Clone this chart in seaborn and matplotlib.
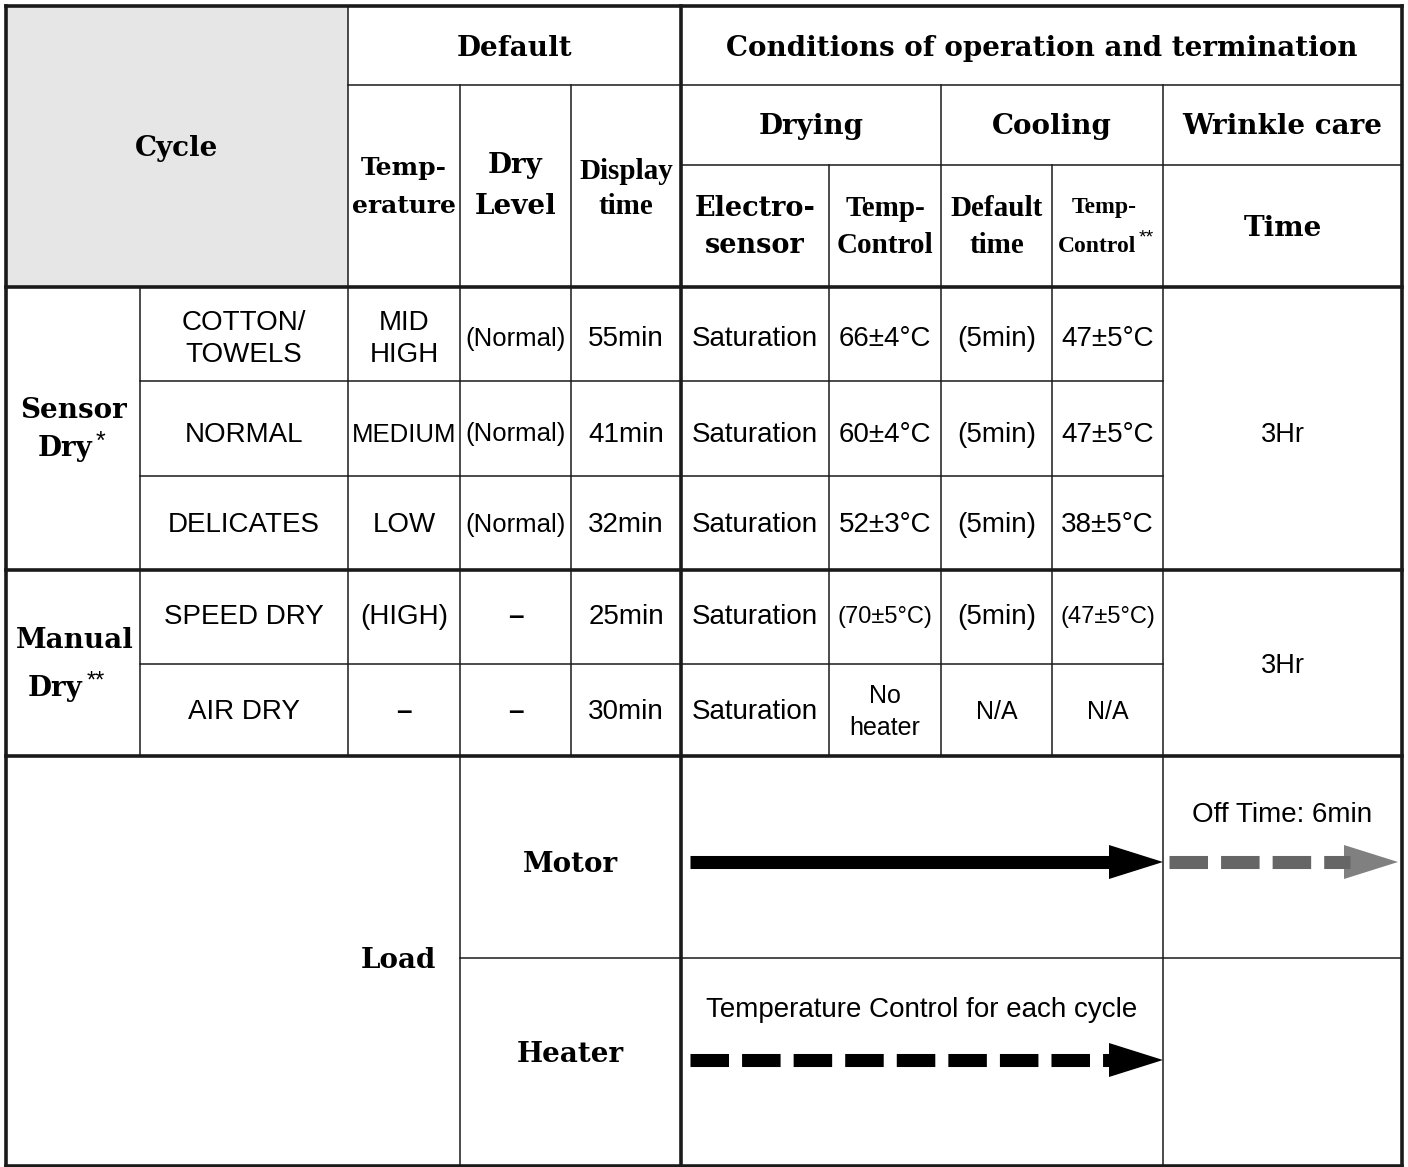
import numpy as np
import pandas as pd
import matplotlib.pyplot as plt
import seaborn as sns

sns.set_theme(style="white")

# table contents
cycles = ["COTTON/\nTOWELS", "NORMAL", "DELICATES", "SPEED DRY", "AIR DRY"]
temperature = ["MID\nHIGH", "MEDIUM", "LOW", "(HIGH)", "–"]
dry_level = ["(Normal)", "(Normal)", "(Normal)", "–", "–"]
display_time = ["55min", "41min", "32min", "25min", "30min"]
electro_sensor = ["Saturation", "Saturation", "Saturation", "Saturation", "Saturation"]
drying_temp = ["66±4°C", "60±4°C", "52±3°C", "(70±5°C)", "No\nheater"]
cooling_time = ["(5min)", "(5min)", "(5min)", "(5min)", "N/A"]
cooling_temp = ["47±5°C", "47±5°C", "38±5°C", "(47±5°C)", "N/A"]
wrinkle_time = ["3Hr", "3Hr"]
groups = ["Sensor", "Manual"]
group_marks = ["*", "**"]
loads = ["Motor", "Heater"]

# grid of the sheet (pixels)
X = [6, 140, 348, 460, 571, 681, 829, 941, 1052, 1163, 1402]
Y = [6, 85, 165, 287, 381, 476, 570, 664, 756, 958, 1166]
row_shift = [5, 6, 2, 0, 2]

HEAD = dict(family="DejaVu Serif", weight="bold", color="black")
COND = dict(family="Liberation Serif", weight="bold", color="black")
BODY = dict(family="Liberation Sans", color="black")

fig = plt.figure(figsize=(14.08, 11.67), dpi=100)
ax = fig.add_axes([0, 0, 1, 1])
ax.set_xlim(0, 1408)
ax.set_ylim(1167, 0)
ax.axis("off")

THIN = 1.1
THICK = 2.6


def hl(y, x0, x1, lw=THIN):
    ax.plot([x0, x1], [y, y], color="#1a1a1a", lw=lw, solid_capstyle="projecting")


def vl(x, y0, y1, lw=THIN):
    ax.plot([x, x], [y0, y1], color="#1a1a1a", lw=lw, solid_capstyle="projecting")


def txt(x, y, s, font, size, **kw):
    ax.text(x, y, s, ha="center", va="center", fontsize=size, **font, **kw)


def cell(c0, c1, r0, r1, s, font, size, dx=0, dy=0, **kw):
    txt((X[c0] + X[c1]) / 2 + dx, (Y[r0] + Y[r1]) / 2 + dy, s, font, size, **kw)


# grey header cell
ax.fill_between([X[0], X[2]], Y[0], Y[3], color="#e6e6e6", lw=0)

# horizontal rules
hl(Y[1], X[2], X[10])
hl(Y[2], X[5], X[10])
hl(Y[3], X[0], X[10], THICK)
hl(Y[4], X[1], X[9])
hl(Y[5], X[1], X[9])
hl(Y[6], X[0], X[10], THICK)
hl(Y[7], X[1], X[9])
hl(Y[8], X[0], X[10], THICK)
hl(Y[9], X[3], X[10])

# vertical rules
vl(X[1], Y[3], Y[8])
vl(X[2], Y[0], Y[8])
vl(X[3], Y[1], Y[10])
vl(X[4], Y[1], Y[8])
vl(X[5], Y[0], Y[10], THICK)
vl(X[6], Y[2], Y[8])
vl(X[7], Y[1], Y[8])
vl(X[8], Y[2], Y[8])
vl(X[9], Y[1], Y[10])

# outer frame
hl(Y[0], X[0], X[10], THICK)
hl(Y[10], X[0], X[10], THICK)
vl(X[0], Y[0], Y[10], THICK)
vl(X[10], Y[0], Y[10], THICK)

# header texts
cell(0, 2, 0, 3, "Cycle", HEAD, 20, dy=2)
cell(2, 5, 0, 1, "Default", HEAD, 20, dy=3)
cell(5, 10, 0, 1, "Conditions of operation and termination", HEAD, 20, dy=3)
cell(5, 7, 1, 2, "Drying", HEAD, 20, dy=2)
cell(7, 9, 1, 2, "Cooling", HEAD, 20, dy=2)
cell(9, 10, 1, 2, "Wrinkle care", HEAD, 20, dy=2)
cell(2, 3, 1, 3, "Temp-\nerature", HEAD, 18, dy=1, linespacing=1.75)
cell(3, 4, 1, 3, "Dry\nLevel", HEAD, 20, dy=0, linespacing=1.7)
cell(4, 5, 1, 3, "Display\ntime", COND, 21, dy=3, linespacing=1.42)
cell(5, 6, 2, 3, "Electro-\nsensor", HEAD, 19.5, dy=1, linespacing=1.45)
cell(6, 7, 2, 3, "Temp-\nControl", COND, 21, dy=1, linespacing=1.48)
cell(7, 8, 2, 3, "Default\ntime", COND, 21, dy=1, linespacing=1.48)
txt(1104, 208, "Temp-", COND, 17)
txt(1097, 246, "Control", COND, 17)
txt(1146, 238, "**", BODY, 14)
cell(9, 10, 2, 3, "Time", HEAD, 20, dy=2)

# cycle group labels
txt(74, 411, groups[0], HEAD, 20)
txt(65, 449, "Dry", HEAD, 20)
txt(100, 442, group_marks[0], BODY, 18)
txt(75, 640, groups[1], HEAD, 20)
txt(55, 688, "Dry", HEAD, 20)
txt(96, 682, group_marks[1], BODY, 17)

# body rows
cols = [cycles, temperature, dry_level, display_time, electro_sensor,
        drying_temp, cooling_time, cooling_temp]
for i in range(5):
    r = 3 + i
    for j, col in enumerate(cols):
        s = col[i]
        size = 20
        extra = {}
        if s.startswith("(N") or s == "MEDIUM":
            size = 18.5
        if "(" in s and "°" in s:
            size = 17
        if s in ("N/A", "No\nheater"):
            size = 18
        if s == "–":
            extra["weight"] = "bold"
        ls = 1.45 if s == "No\nheater" else 1.3
        cell(1 + j, 2 + j, r, r + 1, s, BODY, size, dy=row_shift[i],
             linespacing=ls, **extra)

cell(9, 10, 3, 6, wrinkle_time[0], BODY, 19.5, dy=7)
cell(9, 10, 6, 8, wrinkle_time[1], BODY, 19.5, dy=3)

# load section
txt(398, 960, "Load", HEAD, 20)
txt((X[3] + X[5]) / 2, 864, loads[0], HEAD, 20)
txt((X[3] + X[5]) / 2, 1055, loads[1], HEAD, 20)
txt((X[5] + X[9]) / 2, 1010, "Temperature Control for each cycle", BODY, 20)
txt((X[9] + X[10]) / 2, 815, "Off Time: 6min", BODY, 20)


def arrow(x0, x1, y, color, head_color, dashed):
    shaft = pd.DataFrame({"x": [x0, x1 - 48], "y": [y, y]})
    ls = (0, (2.95, 1.0)) if dashed else "-"
    sns.lineplot(data=shaft, x="x", y="y", ax=ax, color=color, lw=9.4,
                 linestyle=ls, solid_capstyle="butt", dash_capstyle="butt")
    ax.fill([x1 - 54, x1, x1 - 54], [y - 17, y, y + 17], color=head_color, lw=0)


arrow(X[5] + 9, X[9], 862, "black", "black", False)
arrow(X[9] + 6, X[10] - 4, 862, "#666666", "#808080", True)
arrow(X[5] + 9, X[9], 1060, "black", "black", True)

ax.set_xlim(0, 1408)
ax.set_ylim(1167, 0)
ax.axis("off")
fig.savefig("out.png", dpi=100)
